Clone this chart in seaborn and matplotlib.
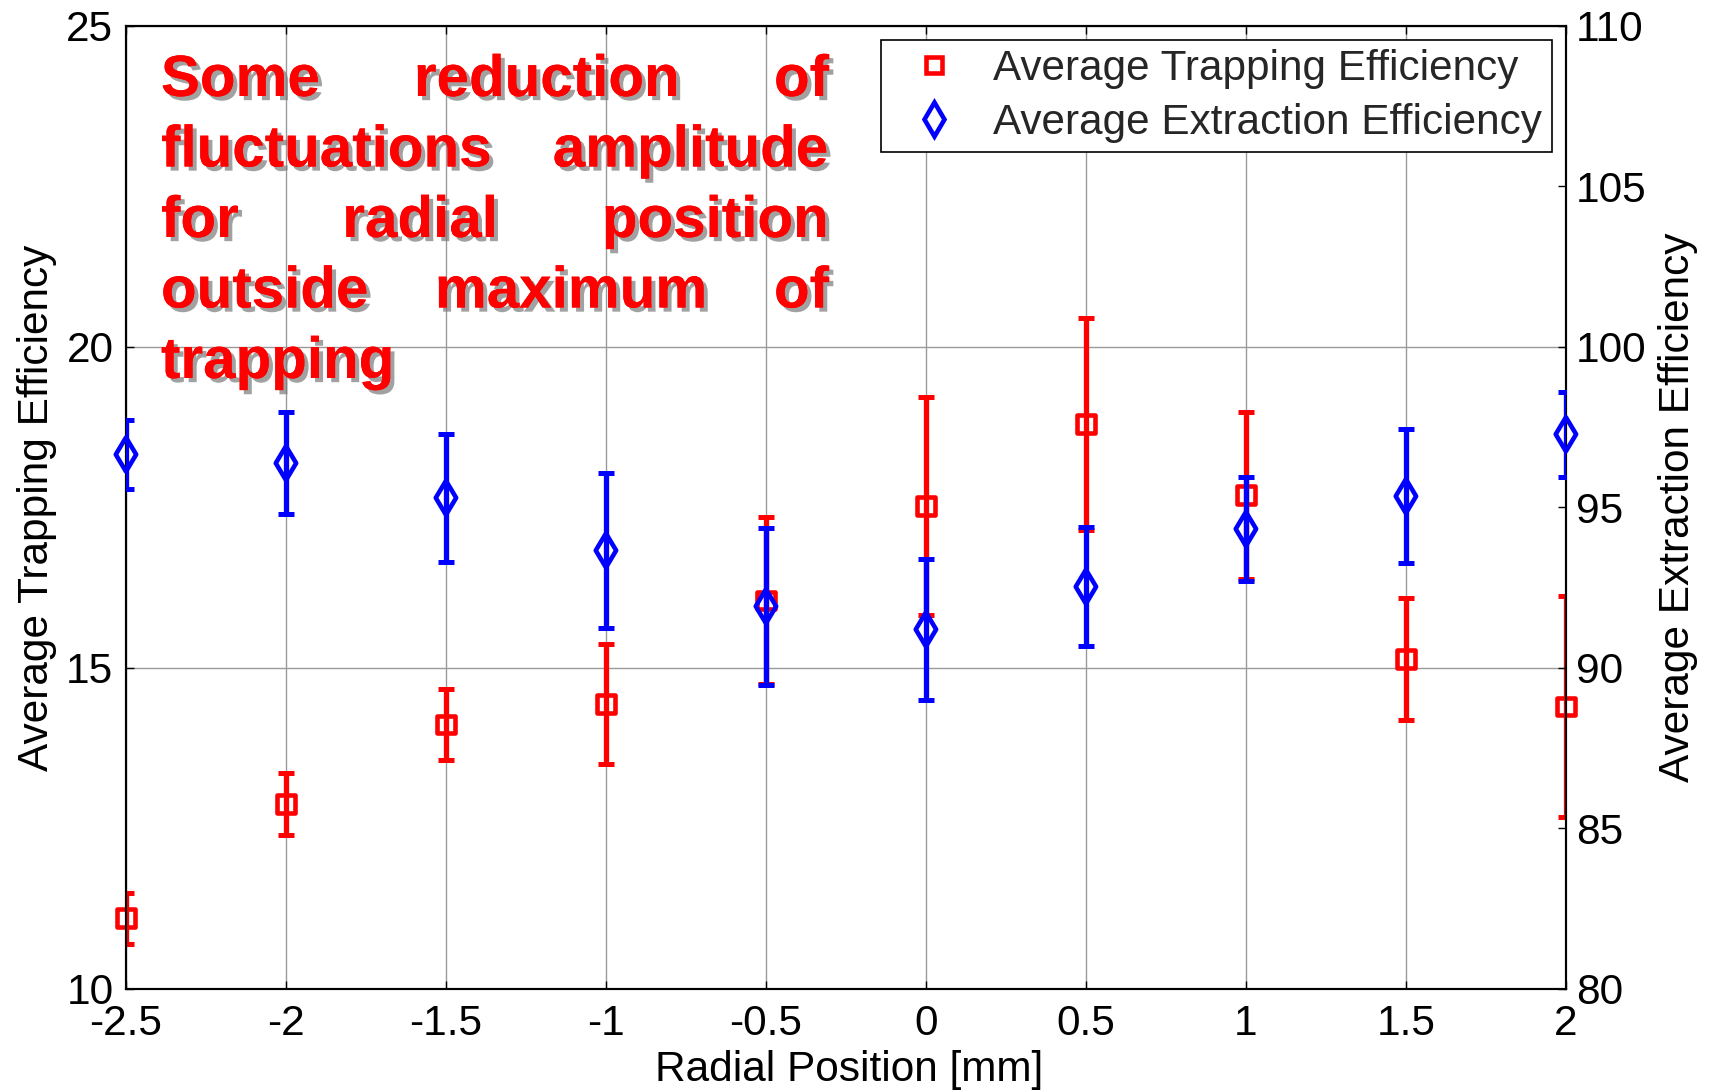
import numpy as np
import pandas as pd
import matplotlib
matplotlib.use("Agg")
import matplotlib.pyplot as plt
import matplotlib.patheffects as pe
from matplotlib.lines import Line2D
import seaborn as sns

# ---------------- data ----------------
radial_position = [-2.5, -2.0, -1.5, -1.0, -0.5, 0.0, 0.5, 1.0, 1.5, 2.0]
trapping_eff = [11.10, 12.88, 14.12, 14.44, 16.05, 17.52, 18.80, 17.69, 15.14, 14.40]
trapping_err = [0.40, 0.48, 0.55, 0.93, 1.30, 1.70, 1.65, 1.30, 0.95, 1.72]
extraction_eff = [96.65, 96.38, 95.30, 93.66, 91.92, 91.20, 92.53, 94.33, 95.35, 97.28]
extraction_err = [1.07, 1.58, 2.00, 2.40, 2.45, 2.20, 1.85, 1.63, 2.08, 1.33]

x_ticks = [-2.5, -2.0, -1.5, -1.0, -0.5, 0.0, 0.5, 1.0, 1.5, 2.0]
x_tick_labels = ["-2.5", "-2", "-1.5", "-1", "-0.5", "0", "0.5", "1", "1.5", "2"]
left_ticks = [10, 15, 20, 25]
right_ticks = [80, 85, 90, 95, 100, 105, 110]

legend_labels = ["Average Trapping Efficiency", "Average Extraction Efficiency"]
note_lines = [["Some", "reduction", "of"],
              ["fluctuations", "amplitude"],
              ["for", "radial", "position"],
              ["outside", "maximum", "of"],
              ["trapping"]]

RED = "#ff0000"
BLUE = "#0000ff"

# ---------------- style ----------------
sns.set_theme(style="white")
plt.rcParams["font.family"] = ["Liberation Sans", "DejaVu Sans"]

fig = plt.figure(figsize=(17.14, 10.90), dpi=100)
ax = fig.add_axes([0.0735, 0.0927, 0.8401, 0.8835])
ax2 = ax.twinx()

df_t = pd.DataFrame({"x": radial_position, "y": trapping_eff})
df_e = pd.DataFrame({"x": radial_position, "y": extraction_eff})

# trapping (left axis)
ax.errorbar(radial_position, trapping_eff, yerr=trapping_err, fmt="none",
            ecolor=RED, elinewidth=3.8, capsize=6, capthick=3.6, zorder=3)
sns.scatterplot(data=df_t, x="x", y="y", ax=ax, marker="s", s=165,
                facecolor="none", edgecolor=RED, linewidth=3.3,
                zorder=4, clip_on=False, legend=False)

# extraction (right axis)
ax2.errorbar(radial_position, extraction_eff, yerr=extraction_err, fmt="none",
             ecolor=BLUE, elinewidth=3.8, capsize=6, capthick=3.6, zorder=3)
sns.scatterplot(data=df_e, x="x", y="y", ax=ax2, marker="d", s=300,
                facecolor="none", edgecolor=BLUE, linewidth=3.3,
                zorder=4, clip_on=False, legend=False)

# axes
ax.set_xlim(-2.5, 2.0)
ax.set_ylim(10, 25)
ax2.set_ylim(80, 110)
ax.set_xticks(x_ticks)
ax.set_xticklabels(x_tick_labels)
ax.set_yticks(left_ticks)
ax2.set_yticks(right_ticks)

ax.grid(True, color="#9a9a9a", linewidth=1.0)
ax2.grid(False)
ax.set_axisbelow(True)

for a in (ax, ax2):
    for sp in a.spines.values():
        sp.set_color("black")
        sp.set_linewidth(1.5)

ax.tick_params(axis="x", direction="in", length=6, width=1, top=True,
               bottom=True, labelsize=30.5, pad=11, colors="black")
ax.tick_params(axis="y", direction="in", length=6, width=1, left=True,
               right=False, labelsize=30.5, pad=9, colors="black")
ax2.tick_params(axis="y", direction="in", length=6, width=1, right=True,
                labelsize=30.5, pad=7, colors="black")

ax.set_xlabel("Radial Position [mm]", fontsize=30.5, color="black")
ax.set_ylabel("Average Trapping Efficiency", fontsize=30.5, color="black")
ax2.set_ylabel("Average Extraction Efficiency", fontsize=30.5, color="black")
ax.xaxis.set_label_coords(0.502, -0.063)
ax.yaxis.set_label_coords(-0.048, 0.5)
ax2.yaxis.set_label_coords(1.064, 0.5)

# legend
handles = [Line2D([], [], linestyle="none", marker="s", markersize=11,
                  markerfacecolor="none", markeredgecolor=RED, markeredgewidth=3.3),
           Line2D([], [], linestyle="none", marker="d", markersize=17,
                  markerfacecolor="none", markeredgecolor=BLUE, markeredgewidth=3.3)]
leg = ax2.legend(handles, legend_labels, loc="upper right",
                 bbox_to_anchor=(0.990, 0.9855), borderaxespad=0,
                 fontsize=30.4, frameon=True, fancybox=False, shadow=False,
                 framealpha=1, edgecolor="black", borderpad=0.22,
                 handlelength=2.05, handletextpad=0.38, labelspacing=0.33)
leg.get_frame().set_linewidth(1.2)
leg.set_zorder(10)

# justified annotation text
x_left_px, x_right_px = 161, 829
baselines_px = [96, 166.5, 237, 307.5, 378]
W, H = fig.get_size_inches() * fig.dpi
shadow = [pe.withSimplePatchShadow(offset=(3, -3), shadow_rgbFace="#7a7a7a", alpha=0.7),
          pe.Normal()]
fig.canvas.draw()
renderer = fig.canvas.get_renderer()
for words, base in zip(note_lines, baselines_px):
    texts = []
    for w in words:
        t = fig.text(0, 1 - base / H, w, fontsize=42, fontweight="bold",
                     color=RED, ha="left", va="baseline", zorder=20,
                     path_effects=shadow)
        texts.append(t)
    widths = [t.get_window_extent(renderer).width for t in texts]
    if len(texts) == 1:
        texts[0].set_x(x_left_px / W)
        continue
    gap = ((x_right_px - x_left_px) - sum(widths)) / (len(texts) - 1)
    xpos = x_left_px
    for t, wd in zip(texts, widths):
        t.set_x(xpos / W)
        xpos += wd + gap

fig.savefig("out.png", dpi=100)
